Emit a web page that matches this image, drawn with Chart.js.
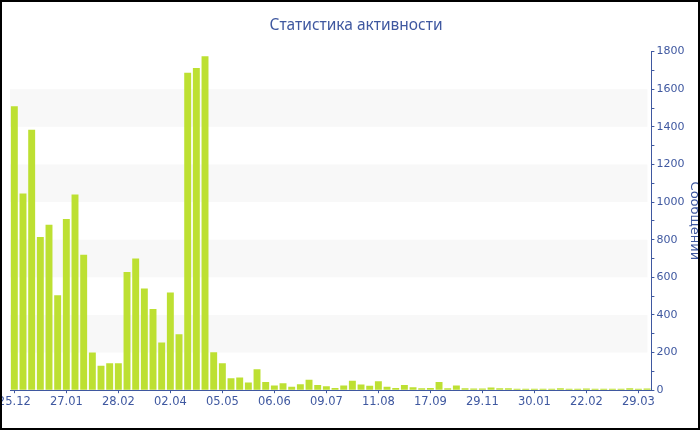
<!DOCTYPE html>
<html>
<head>
<meta charset="utf-8">
<script src="https://cdn.jsdelivr.net/npm/chart.js@4/dist/chart.umd.min.js"></script>
<style>
  html, body { margin: 0; padding: 0; background: #fff; overflow: hidden; }
  #wrap { position: absolute; left: -20px; top: 0; width: 760px; height: 430px; }
  #frame { position: absolute; left: 0; top: 0; width: 700px; height: 430px; box-sizing: border-box; border: 2px solid #000; pointer-events: none; }
</style>
</head>
<body>
<div id="wrap"><canvas id="activityChart"></canvas></div>
<div id="frame"></div>
<script>
// Data
const tickLabels = ['25.12', '27.01', '28.02', '02.04', '05.05', '06.06', '09.07',
  '11.08', '17.09', '29.11', '30.01', '22.02', '29.03']
const labelEvery = 6

const messages = [
  1510, 1045, 1385, 815, 880, 505, 910, 1040, 720, 200,
  130, 143, 143, 628, 700, 540, 432, 253, 520, 297,
  1687, 1713, 1775, 202, 143, 64, 67, 41, 111, 44,
  25, 37, 18, 32, 55, 28, 21, 12, 25, 50,
  30, 23, 48, 18, 12, 28, 16, 11, 12, 43,
  11, 25, 11, 9, 9, 14, 10, 11, 8, 8,
  8, 8, 8, 11, 8, 8, 9, 8, 8, 8,
  8, 11, 8, 9
]

const blue = '#3f58a0'

// one category per bar, only every sixth one carries a date
const categories = messages.map((v, i) =>
  i % labelEvery === 0 ? tickLabels[i / labelEvery] : '')

// grey bands behind the bars: 200-400, 600-800, ...
const bandsPlugin = {
  id: 'bands',
  beforeDatasetsDraw(chart) {
    const { ctx, chartArea, scales } = chart
    const y = scales.y
    ctx.save()
    ctx.fillStyle = '#f8f8f8'
    for (let v = 200; v < y.max; v += 400) {
      const top = y.getPixelForValue(v + 200)
      const bottom = y.getPixelForValue(v)
      ctx.fillRect(chartArea.left, top, chartArea.right - chartArea.left - 4, bottom - top)
    }
    ctx.restore()
  }
}

new Chart(document.getElementById('activityChart'), {
  type: 'bar',
  data: {
    labels: categories,
    datasets: [
      {
        label: 'Сообщений',
        data: messages,
        backgroundColor: '#bde032',
        borderWidth: 0,
        barPercentage: 0.8,
        categoryPercentage: 1
      }
    ]
  },
  options: {
    responsive: true,
    maintainAspectRatio: false,
    animation: false,
    layout: {
      padding: { left: 30, right: 38, top: 0, bottom: 19 }
    },
    plugins: {
      legend: { display: false },
      tooltip: { enabled: false },
      title: {
        display: true,
        text: 'Статистика активности',
        color: blue,
        font: { family: 'Noto Sans', size: 15.5, weight: 'normal' },
        padding: { top: 16, bottom: 17 }
      }
    },
    scales: {
      x: {
        ticks: {
          autoSkip: false,
          maxRotation: 0,
          padding: 2,
          color: blue,
          font: { family: 'DejaVu Sans', size: 11.5 },
          callback: function (value, index) {
            return index % labelEvery === 0 ? categories[index] : null
          }
        },
        grid: {
          offset: false,
          drawOnChartArea: false,
          drawTicks: true,
          tickLength: 3,
          color: blue
        },
        border: { color: blue, width: 1 }
      },
      y: {
        position: 'right',
        min: 0,
        max: 1800,
        ticks: {
          stepSize: 100,
          padding: 2,
          color: blue,
          font: { family: 'DejaVu Sans', size: 11 },
          callback: function (value) {
            return value % 200 === 0 ? value : ''
          }
        },
        grid: {
          drawOnChartArea: false,
          drawTicks: true,
          tickLength: 3,
          color: blue
        },
        border: { color: blue, width: 1 },
        title: {
          display: true,
          text: 'Сообщений',
          color: blue,
          font: { family: 'DejaVu Sans', size: 13 },
          padding: 0
        }
      }
    }
  },
  plugins: [bandsPlugin]
})
</script>
</body>
</html>
